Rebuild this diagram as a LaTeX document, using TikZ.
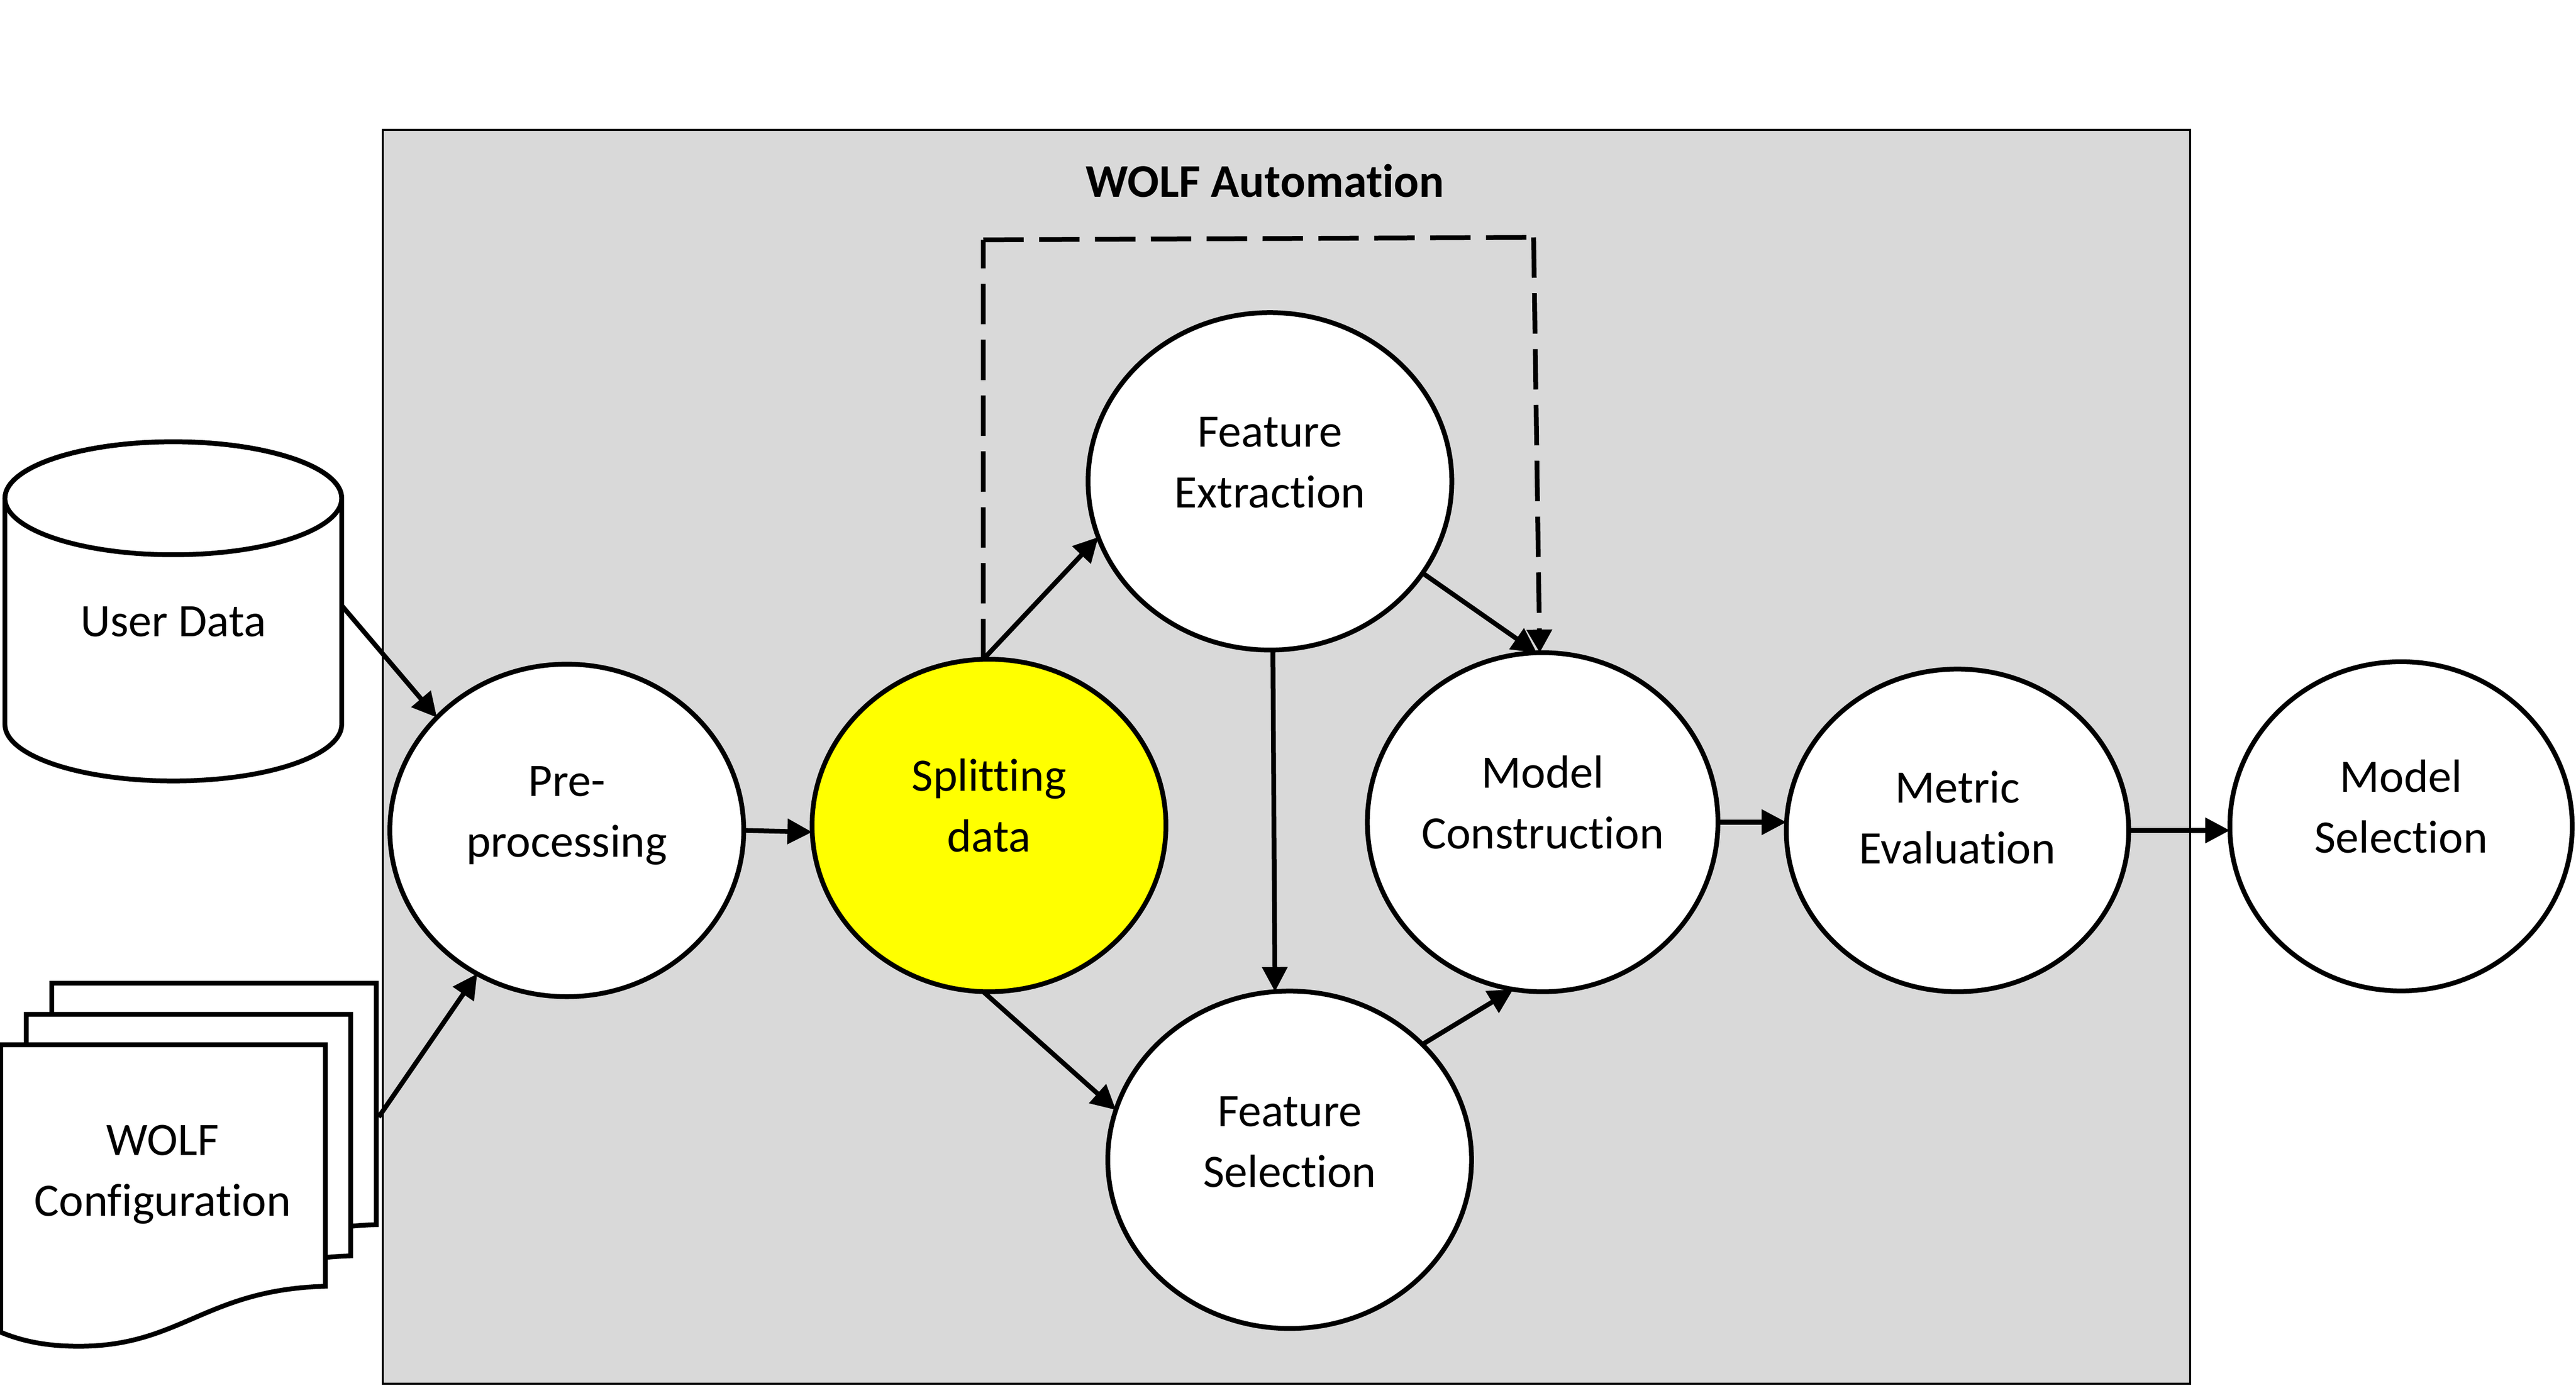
\documentclass[tikz,border=0pt]{standalone}
\usepackage{fontspec}
\setmainfont{Carlito}[Ligatures=NoCommon]
\usetikzlibrary{arrows.meta,shapes.geometric}
\definecolor{procyellow}{RGB}{255,255,0}
\definecolor{framegray}{RGB}{217,217,217}
\newcommand\lifted[2]{\raisebox{#1}[0pt][0pt]{\begin{tabular}{@{}c@{}}#2\end{tabular}}}
\tikzset{
  lw/.style={line width=2.9pt},
  txt/.style={font=\fontsize{28.3}{37}\selectfont,text=black},
  proc/.style={shape=ellipse,draw=black,lw,fill=white,inner sep=0pt,outer sep=0pt,txt},
  plainbox/.style={shape=rectangle,draw=none,inner sep=0pt,outer sep=0pt,txt},
  flow/.style={lw,draw=black,-{Triangle[length=15pt,width=15pt]}},
  dashline/.style={lw,draw=black,dash pattern=on 24.6pt off 9.4pt},
  sheet/.style={lw,draw=black,fill=white,line join=miter},
  wolfdoc/.pic={
    \path[sheet] (0.5,636) -- (198,636) -- (198,783)
      .. controls (125,785) and (110,819.5) .. (48,819.5)
      .. controls (30,819.5) and (15,817) .. (0.5,811) -- cycle;
  }
}
\begin{document}
\begin{tikzpicture}[x=1pt,y=-1pt]
\useasboundingbox (0,0) rectangle (1568,847.7);
\fill[white] (0,0) rectangle (1568,847.7);
% frame
\node[draw=black,line width=1.2pt,fill=framegray,shape=rectangle,inner sep=0pt,outer sep=0pt,
      minimum width=1100pt,minimum height=763.5pt] (frame) at (783,460.7) {};
\node[txt,font=\fontsize{28.5}{37}\selectfont\bfseries,inner sep=0pt] (title) at (770,110) {WOLF Automation};
% cylinder
\path[lw,draw=black,fill=white] (3,303.3) -- (3,441)
  arc[start angle=180,end angle=360,x radius=102.5pt,y radius=34.4pt] -- (208,303.3)
  arc[start angle=0,end angle=180,x radius=102.5pt,y radius=34.4pt] -- cycle;
\path[lw,draw=black] (105.5,303.3) ellipse[x radius=102.5pt,y radius=34.4pt];
\node[plainbox,minimum width=205pt,minimum height=206pt] (ud) at (105.5,372.2) {\lifted{-14pt}{User Data}};
% documents
\pic at (31,-37.5) {wolfdoc};
\pic at (15.5,-18.5) {wolfdoc};
\pic at (0,0) {wolfdoc};
\node[plainbox,minimum width=197pt,minimum height=183pt] (cfg) at (99,727.5) {\lifted{7pt}{WOLF\\Configuration}};
\coordinate (cfgout) at (230.5,680);
% process nodes
\node[proc,minimum width=215.4pt,minimum height=202.4pt] (pre) at (345,505.5) {\lifted{3.5pt}{Pre-\\processing}};
\node[proc,minimum width=215.4pt,minimum height=202.4pt,fill=procyellow] (split) at (602,502.5) {\lifted{3.5pt}{Splitting\\data}};
\node[proc,minimum width=221.4pt,minimum height=205.4pt] (fe) at (773,293) {\lifted{3.5pt}{Feature\\Extraction}};
\node[proc,minimum width=221.4pt,minimum height=205.4pt] (fs) at (785,706) {\lifted{3pt}{Feature\\Selection}};
\node[proc,minimum width=213.4pt,minimum height=206.4pt] (mc) at (939,500.5) {\lifted{3.5pt}{Model\\Construction}};
\node[proc,minimum width=208.4pt,minimum height=196.4pt] (me) at (1191.5,505.5) {\lifted{-0.5pt}{Metric\\Evaluation}};
\node[proc,minimum width=208.4pt,minimum height=200.4pt] (ms) at (1461.5,503) {\lifted{3.5pt}{Model\\Selection}};
% corners of the dashed route
\coordinate (c1) at (598.5,146);
\coordinate (c2) at (933.5,144.5);
% connectors
\draw[flow] (ud.2.2) -- (pre.139);
\draw[flow] (cfgout) -- (pre.238.7);
\draw[flow] (pre.east) -- ([yshift=-4pt]split.west);
\draw[flow] (split.92) -- (fe.198.4);
\draw[flow] (split.268.9) -- (fs.164.8);
\draw[flow] (fe.329.7) -- (mc.92.5);
\draw[flow] (fe.271) -- (fs.95.5);
\draw[flow] (fs.41.7) -- (mc.260);
\draw[flow] (mc.east) -- (mc.east -| me.west);
\draw[flow] (me.east) -- (me.east -| ms.west);
\draw[dashline] (split.92) -- (c1);
\draw[dashline] (c1) -- (c2);
\draw[dashline,-{Triangle[length=14pt,width=15pt]}] (c2) -- (mc.91);
\end{tikzpicture}
\end{document}
